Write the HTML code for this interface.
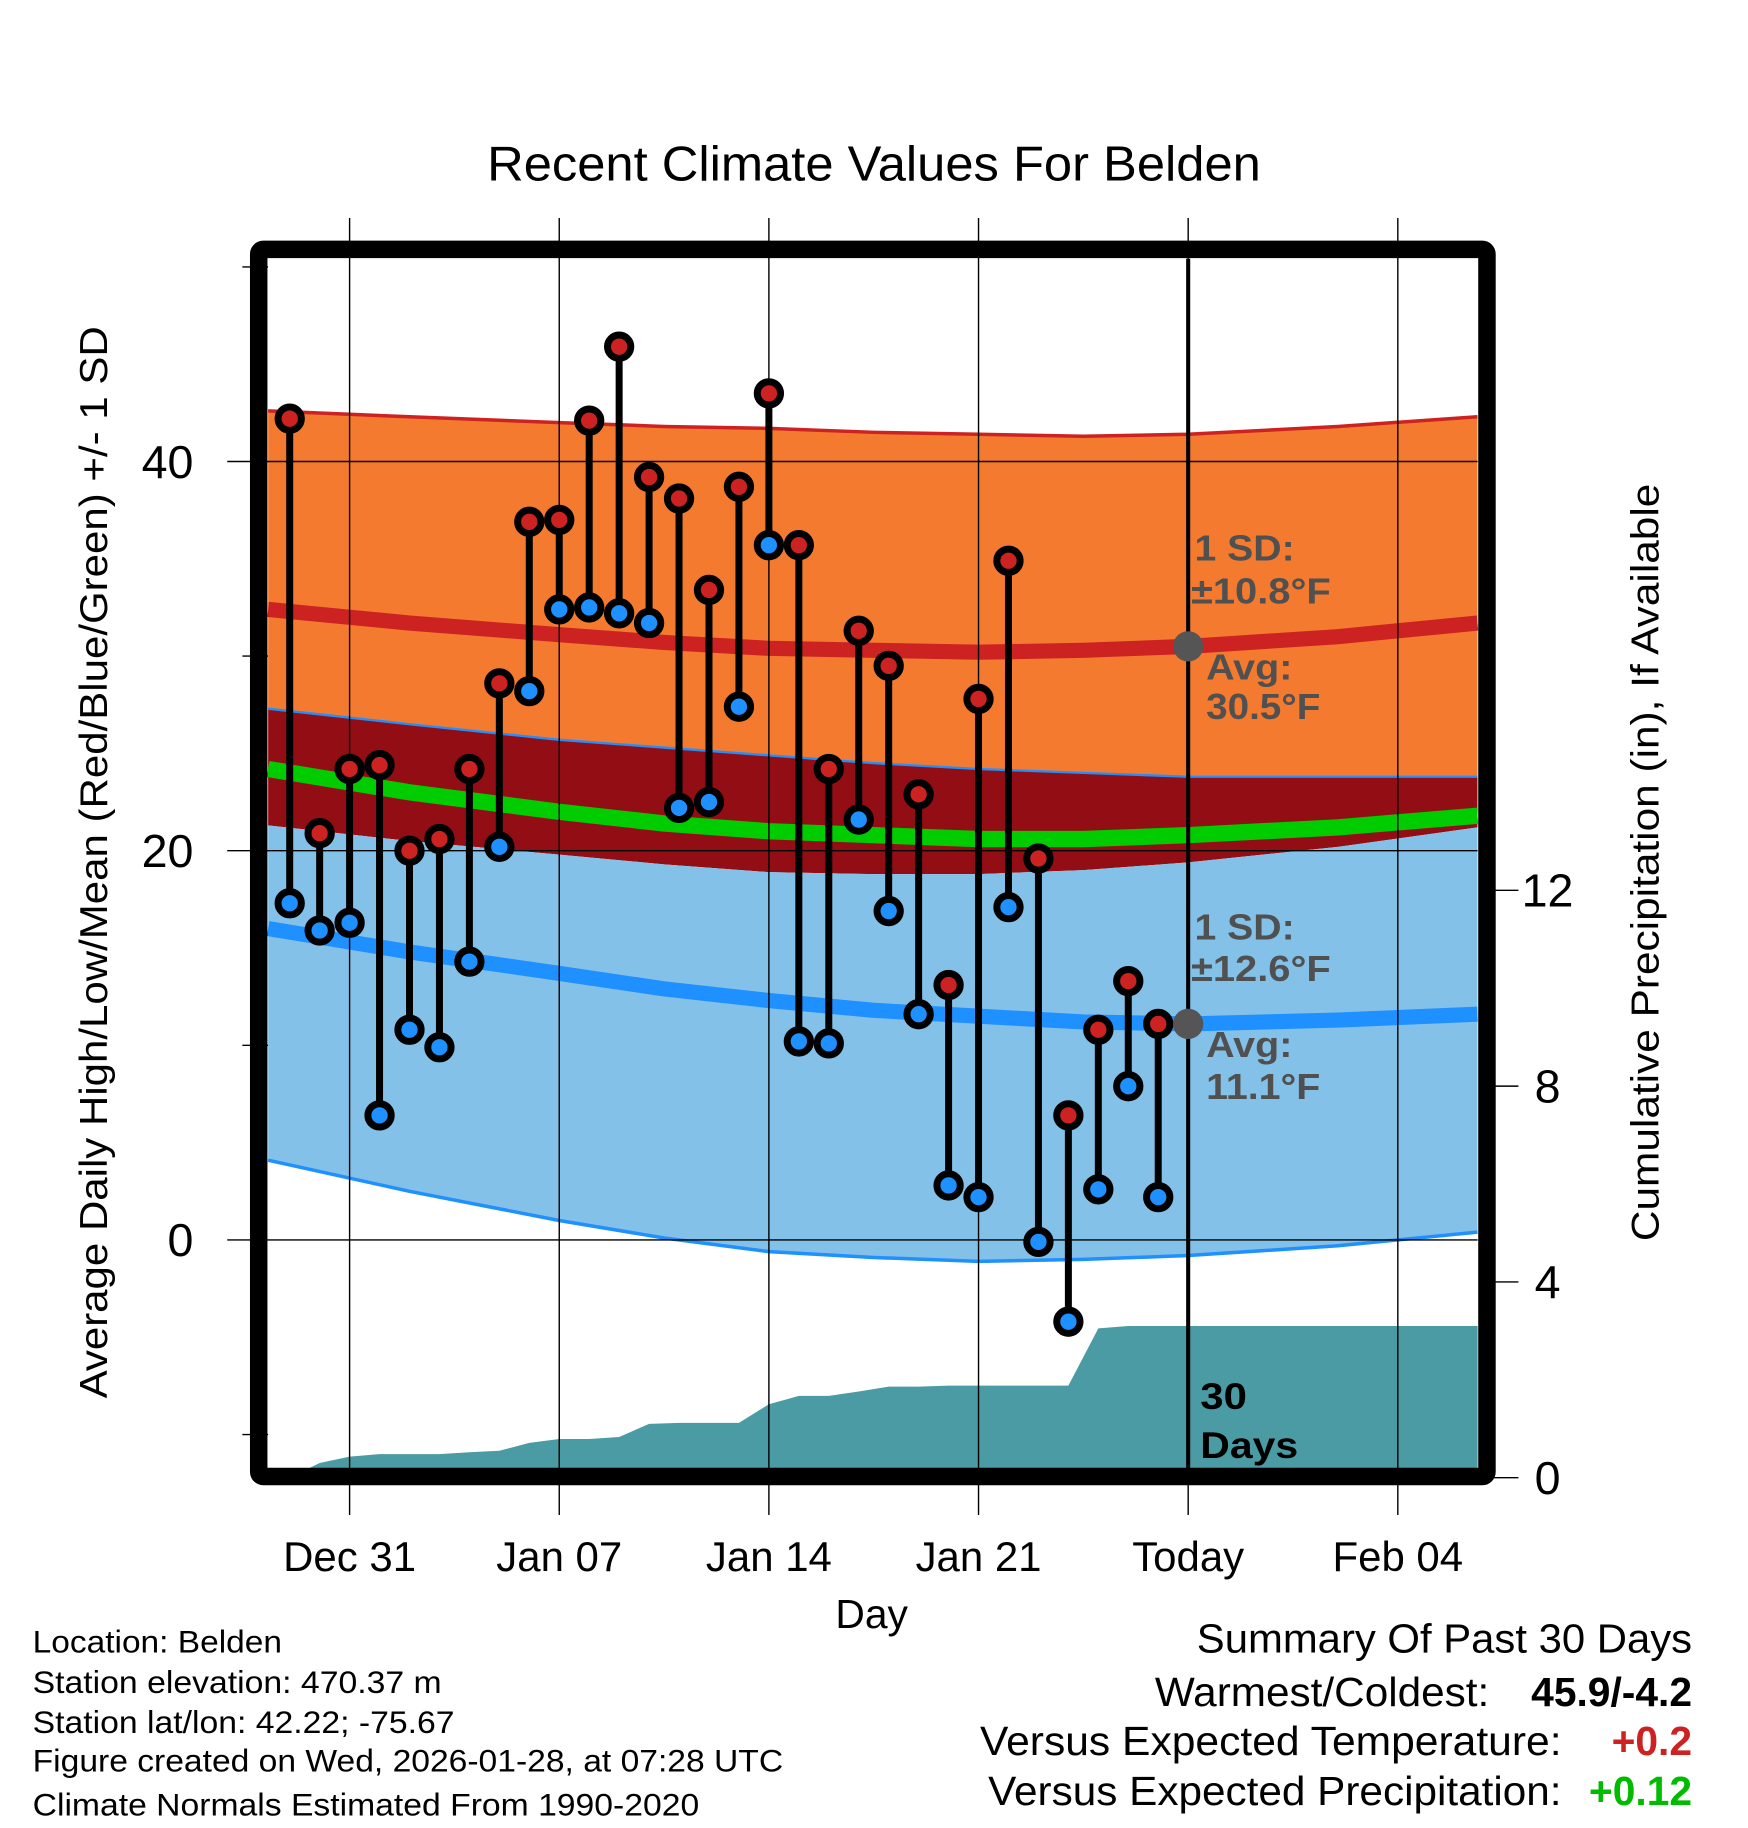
<!DOCTYPE html>
<html><head><meta charset="utf-8"><style>
html,body{margin:0;padding:0;background:#fff;}
svg{display:block;font-family:"Liberation Sans",Arial,sans-serif;}
</style></head><body>
<svg id="chart" width="1748" height="1828" viewBox="0 0 1500 1568.6" xmlns="http://www.w3.org/2000/svg">
<text x="418" y="155" font-size="42" textLength="664" lengthAdjust="spacingAndGlyphs">Recent Climate Values For Belden</text>
<g id="plot"></g>
<text transform="translate(92,1200) rotate(-90)" font-size="33" textLength="920" lengthAdjust="spacingAndGlyphs">Average Daily High/Low/Mean (Red/Blue/Green) +/- 1 SD</text>
<text transform="translate(1423,1065) rotate(-90)" font-size="33" textLength="650" lengthAdjust="spacingAndGlyphs">Cumulative Precipitation (in), If Available</text>
<text x="748" y="1397" font-size="35" text-anchor="middle">Day</text>
<g font-size="27">
<text x="28" y="1418" textLength="214" lengthAdjust="spacingAndGlyphs">Location: Belden</text>
<text x="28" y="1453" textLength="351" lengthAdjust="spacingAndGlyphs">Station elevation: 470.37 m</text>
<text x="28" y="1487" textLength="362" lengthAdjust="spacingAndGlyphs">Station lat/lon: 42.22; -75.67</text>
<text x="28" y="1520" textLength="644" lengthAdjust="spacingAndGlyphs">Figure created on Wed, 2026-01-28, at 07:28 UTC</text>
<text x="28" y="1558" textLength="572" lengthAdjust="spacingAndGlyphs">Climate Normals Estimated From 1990-2020</text>
</g>
<g font-size="35">
<text x="1027" y="1418" textLength="425" lengthAdjust="spacingAndGlyphs">Summary Of Past 30 Days</text>
<text x="991" y="1464" textLength="287" lengthAdjust="spacingAndGlyphs">Warmest/Coldest:</text>
<text x="1452" y="1464" text-anchor="end" font-weight="bold">45.9/-4.2</text>
<text x="841" y="1506" textLength="499" lengthAdjust="spacingAndGlyphs">Versus Expected Temperature:</text>
<text x="1452" y="1506" text-anchor="end" font-weight="bold" fill="#cc2222">+0.2</text>
<text x="848" y="1549" textLength="492" lengthAdjust="spacingAndGlyphs">Versus Expected Precipitation:</text>
<text x="1452" y="1549" text-anchor="end" font-weight="bold" fill="#00bb00">+0.12</text>
</g>
</svg>
<script>
// Day index: 0 = Dec 29
const highs=[42.2,20.9,24.2,24.4,20.0,20.6,24.2,28.6,36.9,37.0,42.1,45.9,39.2,38.1,33.4,38.7,43.5,35.7,24.2,31.3,29.5,22.9,13.1,27.8,34.9,19.6,6.4,10.8,13.3,11.1];
const lows=[17.3,15.9,16.3,6.4,10.8,9.9,14.3,20.2,28.2,32.4,32.5,32.2,31.7,22.2,22.5,27.4,35.7,10.2,10.1,21.6,16.9,11.6,2.8,2.2,17.1,-0.1,-4.2,2.6,7.9,2.2];
const precip=[0.0,0.3,0.43,0.48,0.48,0.48,0.52,0.55,0.71,0.79,0.79,0.83,1.1,1.12,1.12,1.12,1.5,1.67,1.67,1.76,1.86,1.86,1.88,1.88,1.88,1.88,1.88,3.05,3.1,3.1];
const normDays=[-0.72,4,9,12.5,16,19.5,23,26.5,30,35,39.66];
const normHiUp=[42.6,42.3,42.0,41.8,41.7,41.5,41.4,41.3,41.4,41.8,42.3];
const normHi=[32.4,31.7,31.1,30.7,30.4,30.3,30.2,30.3,30.5,31.0,31.7];
const normHiDn=[27.3,26.5,25.7,25.3,24.9,24.5,24.2,24.0,23.8,23.8,23.8];
const normMean=[24.2,23.0,22.0,21.4,21.0,20.8,20.6,20.6,20.8,21.2,21.8];
const normLoUp=[21.3,20.5,19.8,19.3,18.9,18.8,18.8,19.0,19.4,20.2,21.2];
const normLo=[16.0,14.8,13.7,12.9,12.3,11.8,11.5,11.2,11.1,11.3,11.6];
const normLoDn=[4.1,2.5,1.0,0.1,-0.6,-0.9,-1.1,-1.0,-0.8,-0.3,0.4];
const xTickDays=[2,9,16,23,30,37];
const xTickLabels=["Dec 31","Jan 07","Jan 14","Jan 21","Today","Feb 04"];
const yTicks=[0,20,40];
const yMinor=[-10,10,30,50];
const pTicks=[0,4,8,12];

const L=230,R=1268,T=222,B=1260;
const x=d=>248.6+d*25.7;
const y=v=>1064-v*16.7;
const py=p=>1268-p*42;
const NS="http://www.w3.org/2000/svg";
const g=document.getElementById('plot');
function mk(tag,attrs,parent){const e=document.createElementNS(NS,tag);for(const k in attrs)e.setAttribute(k,attrs[k]);(parent||g).appendChild(e);return e;}
function band(top,bot,fill,name){
  let d='M'+normDays.map((dd,i)=>x(dd)+','+y(top[i])).join(' L');
  for(let i=normDays.length-1;i>=0;i--)d+=' L'+x(normDays[i])+','+y(bot[i]);
  const e=mk('path',{d:d+'Z',fill:fill});
  
  
}
function line(arr,col,w,name){
  const e=mk('path',{d:'M'+normDays.map((dd,i)=>x(dd)+','+y(arr[i])).join(' L'),fill:'none',stroke:col,'stroke-width':w});
  
  
}
band(normHiUp,normHiDn,'#f47a30','high-sd-band');
band(normHiDn,normLoUp,'#930d14','overlap-band');
band(normLoUp,normLoDn,'#84c1e8','low-sd-band');
line(normHiUp,'#cc2222',3,'high-plus-sd-line');
line(normLoDn,'#1e90ff',3,'low-minus-sd-line');
line(normHiDn,'#1e90ff',2,'high-minus-sd-line');
line(normHi,'#cc2222',13,'avg-high-line');
line(normLo,'#1e90ff',13,'avg-low-line');
line(normMean,'#00cc00',14,'avg-mean-line');
// precip area
let pd='M'+x(0)+','+B;
precip.forEach((p,i)=>{pd+=' L'+x(i)+','+py(p);});
pd+=' L'+R+','+py(precip[precip.length-1])+' L'+R+','+B+'Z';
const pa=mk('path',{d:pd,fill:'#4a9ba3'});


// grid
xTickDays.forEach((d,i)=>{
  const gl=mk('line',{x1:x(d),x2:x(d),y1:187,y2:1300,stroke:'#000','stroke-width':1.2});
  
  
  const t=mk('text',{x:x(d),y:1348,'font-size':36,'text-anchor':'middle'});
  t.textContent=xTickLabels[i];
  
  
});
yTicks.forEach(v=>{
  const gl=mk('line',{x1:195,x2:R,y1:y(v),y2:y(v),stroke:'#000','stroke-width':1.2});
  
  
  const t=mk('text',{x:166,y:y(v)+14,'font-size':40,'text-anchor':'end'});
  t.textContent=v;
  
  
});
yMinor.forEach(v=>{
  const tk=mk('line',{x1:208,x2:L,y1:y(v),y2:y(v),stroke:'#000','stroke-width':1.2});
  
  
});
pTicks.forEach(p=>{
  const tk=mk('line',{x1:1282,x2:1303,y1:py(p),y2:py(p),stroke:'#000','stroke-width':1.2});
  
  
  const t=mk('text',{x:1328,y:py(p)+14,'font-size':40,'text-anchor':'middle'});
  t.textContent=p;
  
  
});
// today line
const tl=mk('line',{x1:x(30),x2:x(30),y1:T,y2:B,stroke:'#000','stroke-width':3.5});


// stems and markers
highs.forEach((h,i)=>{
  const s=mk('line',{x1:x(i),x2:x(i),y1:y(h),y2:y(lows[i]),stroke:'#000','stroke-width':6});
  
  
  const lc=mk('circle',{cx:x(i),cy:y(lows[i]),r:10,fill:'#1e90ff',stroke:'#000','stroke-width':6});
  
  
  const hc=mk('circle',{cx:x(i),cy:y(h),r:10,fill:'#cc2222',stroke:'#000','stroke-width':6});
  
  
});
// annotation dots
[normHi[8],normLo[8]].forEach(v=>{
  const c=mk('circle',{cx:x(30),cy:y(v),r:13,fill:'#555'});
  
  
});
const ann=[["1 SD:",1025,481,86],["±10.8°F",1022,518,120],["Avg:",1035,583,74],["30.5°F",1035,617,98],["1 SD:",1025,806,86],["±12.6°F",1022,842,120],["Avg:",1035,907,74],["11.1°F",1035,943,98]];
ann.forEach(a=>{
  const t=mk('text',{x:a[1],y:a[2],'font-size':31,'font-weight':'bold',fill:'#505050',textLength:a[3],lengthAdjust:'spacingAndGlyphs'});
  t.textContent=a[0];
  
  
});
[["30",1209,40],["Days",1251,84]].forEach(a=>{
  const t=mk('text',{x:1030,y:a[1],'font-size':32,'font-weight':'bold',textLength:a[2],lengthAdjust:'spacingAndGlyphs'});
  t.textContent=a[0];
  
  
});
// frame
const fr=mk('rect',{x:222,y:214,width:1054,height:1053,fill:'none',stroke:'#000','stroke-width':15,rx:4});


</script>
</body></html>
